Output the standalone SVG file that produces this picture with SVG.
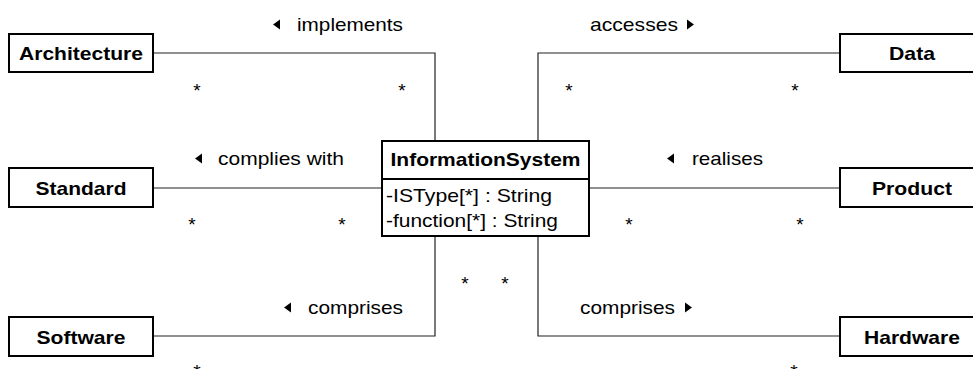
<svg xmlns="http://www.w3.org/2000/svg" width="973" height="369" viewBox="0 0 973 369">
<style>
text{font-family:"Liberation Sans",Arial,sans-serif;font-size:19px;fill:#000}
.b{font-weight:bold;text-anchor:middle}
.box{fill:#fff;stroke:#000;stroke-width:2}
.ln{fill:none;stroke:#222;stroke-width:1.2}
.m{text-anchor:middle}
</style>
<rect width="973" height="369" fill="#fff"/>
<g id="connectors">
<path class="ln" d="M153 53H435V141"/>
<path class="ln" d="M840 53H538V141"/>
<path class="ln" d="M153 188H382"/>
<path class="ln" d="M589 188H840"/>
<path class="ln" d="M153 336H435V236"/>
<path class="ln" d="M840 336H538V236"/>
<g id="labels">
<path d="M273 24.5L280 19.5V29.5Z"/>
<text x="297" y="31" textLength="106" lengthAdjust="spacingAndGlyphs">implements</text>
<text x="590" y="31" textLength="88" lengthAdjust="spacingAndGlyphs">accesses</text>
<path d="M694 24.5L687 19.5V29.5Z"/>
<path d="M195 158.5L202 153.5V163.5Z"/>
<text x="218" y="165" textLength="126" lengthAdjust="spacingAndGlyphs">complies with</text>
<path d="M667 158.5L674 153.5V163.5Z"/>
<text x="692" y="165" textLength="71" lengthAdjust="spacingAndGlyphs">realises</text>
<path d="M284 307.5L291 302.5V312.5Z"/>
<text x="308" y="314" textLength="95" lengthAdjust="spacingAndGlyphs">comprises</text>
<text x="580" y="314" textLength="95" lengthAdjust="spacingAndGlyphs">comprises</text>
<path d="M692 307.5L685 302.5V312.5Z"/>
</g>
<g id="multiplicities">
<text class="m" x="197" y="97">*</text>
<text class="m" x="402" y="97">*</text>
<text class="m" x="569" y="97">*</text>
<text class="m" x="795" y="97">*</text>
<text class="m" x="192" y="231">*</text>
<text class="m" x="342" y="231">*</text>
<text class="m" x="629" y="231">*</text>
<text class="m" x="800" y="231">*</text>
<text class="m" x="465" y="290">*</text>
<text class="m" x="505" y="290">*</text>
<text class="m" x="197" y="378">*</text>
<text class="m" x="794" y="378">*</text>
</g>
</g>
<g id="Architecture">
<rect class="box" x="9" y="34" width="144" height="38"/>
<text class="b" x="81" y="60" textLength="124" lengthAdjust="spacingAndGlyphs">Architecture</text>
</g>
<g id="Data">
<rect class="box" x="840" y="34" width="144" height="38"/>
<text class="b" x="912" y="60" textLength="46" lengthAdjust="spacingAndGlyphs">Data</text>
</g>
<g id="Standard">
<rect class="box" x="9" y="168" width="144" height="39"/>
<text class="b" x="81" y="194.5" textLength="91" lengthAdjust="spacingAndGlyphs">Standard</text>
</g>
<g id="Product">
<rect class="box" x="840" y="168" width="144" height="39"/>
<text class="b" x="912" y="194.5" textLength="80" lengthAdjust="spacingAndGlyphs">Product</text>
</g>
<g id="Software">
<rect class="box" x="9" y="317" width="144" height="39"/>
<text class="b" x="81" y="343.5" textLength="89" lengthAdjust="spacingAndGlyphs">Software</text>
</g>
<g id="Hardware">
<rect class="box" x="840" y="317" width="144" height="39"/>
<text class="b" x="912" y="343.5" textLength="96" lengthAdjust="spacingAndGlyphs">Hardware</text>
</g>
<g id="InformationSystem">
<rect class="box" x="382" y="141" width="207" height="95"/>
<line x1="382" y1="179" x2="589" y2="179" stroke="#000" stroke-width="2"/>
<text class="b" x="485.5" y="166" textLength="190" lengthAdjust="spacingAndGlyphs">InformationSystem</text>
<text x="386" y="202" textLength="166" lengthAdjust="spacingAndGlyphs">-ISType[*] : String</text>
<text x="386" y="226.5" textLength="172" lengthAdjust="spacingAndGlyphs">-function[*] : String</text>
</g>
</svg>
